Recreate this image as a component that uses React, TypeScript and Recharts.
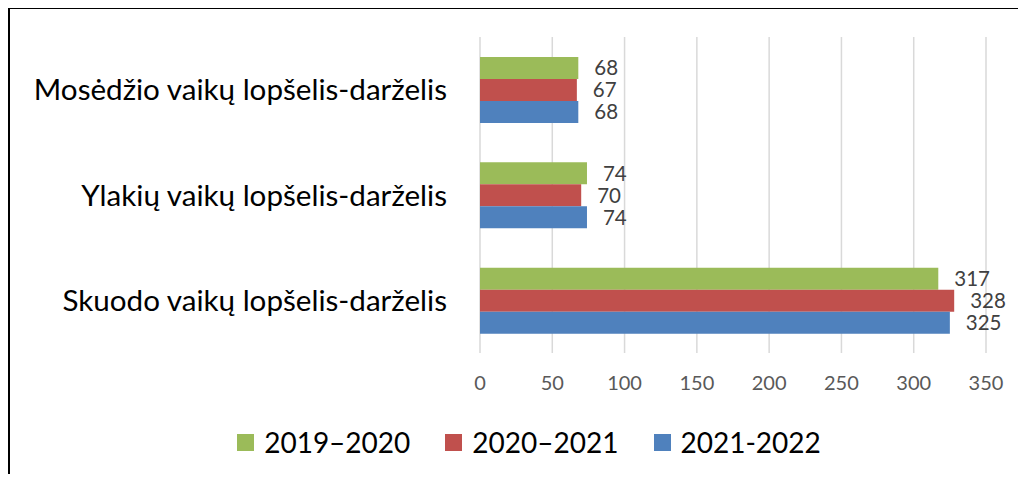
import React from "react";
import {
  BarChart,
  Bar,
  XAxis,
  YAxis,
  CartesianGrid,
  Legend,
  LabelList,
} from "recharts";

const schools = [
  "Mosėdžio vaikų lopšelis-darželis",
  "Ylakių vaikų lopšelis-darželis",
  "Skuodo vaikų lopšelis-darželis",
];
const y2019 = [68, 74, 317];
const y2020 = [67, 70, 328];
const y2021 = [68, 74, 325];
const xTicks = [0, 50, 100, 150, 200, 250, 300, 350];

const series = [
  { key: "a", name: "2019–2020", values: y2019, color: "#9bbb59" },
  { key: "b", name: "2020–2021", values: y2020, color: "#c0504d" },
  { key: "c", name: "2021-2022", values: y2021, color: "#4f81bd" },
];

const data = schools.map((name, i) => {
  const row: Record<string, string | number> = { name };
  series.forEach((s) => (row[s.key] = s.values[i]));
  return row;
});

const FONT = "Lato, 'Open Sans', sans-serif";

function LegendContent({ payload }: any) {
  return (
    <div
      style={{
        display: "flex",
        justifyContent: "center",
        gap: 35,
        paddingLeft: 64,
        paddingTop: 11,
        fontFamily: FONT,
      }}
    >
      {(payload || []).map((p: any) => (
        <div key={p.value} style={{ display: "flex", alignItems: "center", gap: 10 }}>
          <span style={{ width: 17, height: 17, background: p.color, display: "inline-block" }} />
          <span style={{ fontSize: 28, color: "#000" }}>{p.value}</span>
        </div>
      ))}
    </div>
  );
}

export default function App() {
  return (
    <div style={{ position: "relative", width: 1010, height: 466 }}>
      <div
        style={{
          position: "absolute",
          left: 0,
          top: -1,
          width: 1040,
          height: 500,
          borderTop: "2px solid #000",
          borderLeft: "2px solid #000",
          pointerEvents: "none",
        }}
      />
      <BarChart
        width={1010}
        height={466}
        data={data}
        layout="vertical"
        margin={{ top: 29, right: 32, bottom: 0, left: 0 }}
        barGap={0}
        barSize={22}
      >
        <CartesianGrid horizontal={false} stroke="#d9d9d9" strokeWidth={1.5} />
        <XAxis
          type="number"
          domain={[0, 350]}
          ticks={xTicks}
          axisLine={false}
          tickLine={false}
          tickSize={0}
          tickMargin={23}
          height={61}
          tick={{ fontSize: 20, fill: "#595959", fontFamily: FONT }}
        />
        <YAxis
          type="category"
          dataKey="name"
          width={472}
          axisLine={false}
          tickLine={false}
          tickSize={0}
          tickMargin={33}
          tick={{ fontSize: 29.6, fill: "#000", fontFamily: FONT }}
        />
        <Legend verticalAlign="bottom" height={60} content={<LegendContent />} />
        {series.map((s) => (
          <Bar key={s.key} dataKey={s.key} name={s.name} fill={s.color} isAnimationActive={false}>
            <LabelList
              dataKey={s.key}
              position="right"
              offset={16}
              style={{ fontSize: 20.5, fill: "#404040", fontFamily: FONT }}
            />
          </Bar>
        ))}
      </BarChart>
    </div>
  );
}
